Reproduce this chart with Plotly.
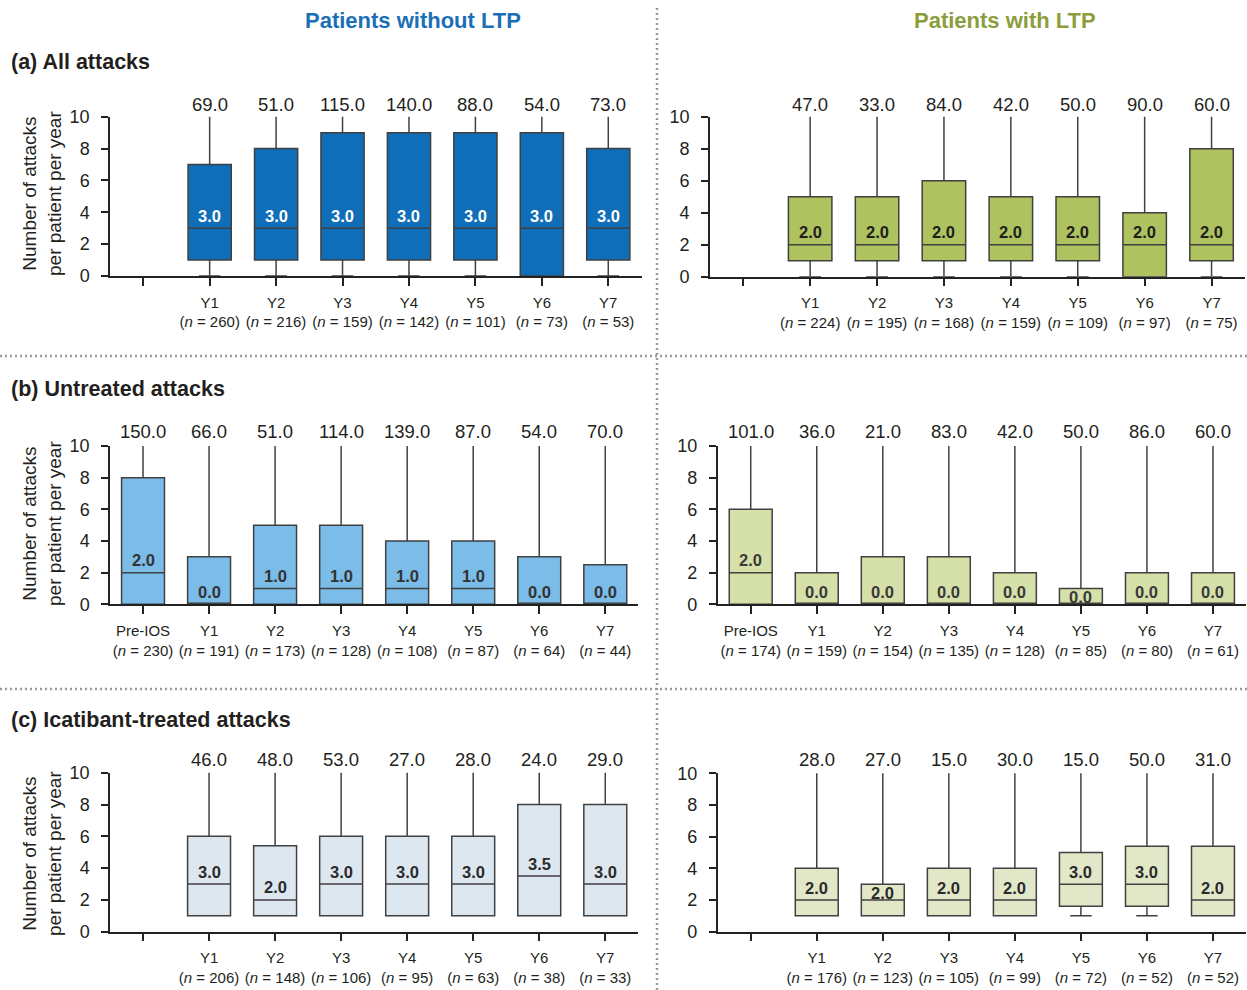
import plotly.graph_objects as go

FONT = "Liberation Sans, Arial, Helvetica, sans-serif"
W, H = 1247, 990

# ---------------- data ----------------
years = ["Y1", "Y2", "Y3", "Y4", "Y5", "Y6", "Y7"]
years_pre = ["Pre-IOS"] + years

# (a) All attacks
a_wo_n = [260, 216, 159, 142, 101, 73, 53]
a_wo_q1 = [1, 1, 1, 1, 1, 0, 1]
a_wo_med = [3.0, 3.0, 3.0, 3.0, 3.0, 3.0, 3.0]
a_wo_q3 = [7, 8, 9, 9, 9, 9, 8]
a_wo_min = [0, 0, 0, 0, 0, 0, 0]
a_wo_max = [69.0, 51.0, 115.0, 140.0, 88.0, 54.0, 73.0]

a_w_n = [224, 195, 168, 159, 109, 97, 75]
a_w_q1 = [1, 1, 1, 1, 1, 0, 1]
a_w_med = [2.0, 2.0, 2.0, 2.0, 2.0, 2.0, 2.0]
a_w_q3 = [5, 5, 6, 5, 5, 4, 8]
a_w_min = [0, 0, 0, 0, 0, 0, 0]
a_w_max = [47.0, 33.0, 84.0, 42.0, 50.0, 90.0, 60.0]

# (b) Untreated attacks
b_wo_n = [230, 191, 173, 128, 108, 87, 64, 44]
b_wo_q1 = [0, 0, 0, 0, 0, 0, 0, 0]
b_wo_med = [2.0, 0.0, 1.0, 1.0, 1.0, 1.0, 0.0, 0.0]
b_wo_q3 = [8, 3, 5, 5, 4, 4, 3, 2.5]
b_wo_min = [0, 0, 0, 0, 0, 0, 0, 0]
b_wo_max = [150.0, 66.0, 51.0, 114.0, 139.0, 87.0, 54.0, 70.0]

b_w_n = [174, 159, 154, 135, 128, 85, 80, 61]
b_w_q1 = [0, 0, 0, 0, 0, 0, 0, 0]
b_w_med = [2.0, 0.0, 0.0, 0.0, 0.0, 0.0, 0.0, 0.0]
b_w_q3 = [6, 2, 3, 3, 2, 1, 2, 2]
b_w_min = [0, 0, 0, 0, 0, 0, 0, 0]
b_w_max = [101.0, 36.0, 21.0, 83.0, 42.0, 50.0, 86.0, 60.0]

# (c) Icatibant-treated attacks
c_wo_n = [206, 148, 106, 95, 63, 38, 33]
c_wo_q1 = [1, 1, 1, 1, 1, 1, 1]
c_wo_med = [3.0, 2.0, 3.0, 3.0, 3.0, 3.5, 3.0]
c_wo_q3 = [6, 5.4, 6, 6, 6, 8, 8]
c_wo_min = [1, 1, 1, 1, 1, 1, 1]
c_wo_max = [46.0, 48.0, 53.0, 27.0, 28.0, 24.0, 29.0]

c_w_n = [176, 123, 105, 99, 72, 52, 52]
c_w_q1 = [1, 1, 1, 1, 1.6, 1.6, 1]
c_w_med = [2.0, 2.0, 2.0, 2.0, 3.0, 3.0, 2.0]
c_w_q3 = [4, 3, 4, 4, 5, 5.4, 5.4]
c_w_min = [1, 1, 1, 1, 1, 1, 1]
c_w_max = [28.0, 27.0, 15.0, 30.0, 15.0, 50.0, 31.0]

# ---------------- styling ----------------
BLUE_DARK = "#106db7"
BLUE_LIGHT = "#7bbde8"
BLUE_PALE = "#dde7f0"
GREEN_DARK = "#aec25f"
GREEN_LIGHT = "#d5e1a8"
GREEN_PALE = "#e2e7c8"
EDGE = "#404040"
AXIS = "#222222"
TEXT = "#231f20"


def px_x(p):
    return p / W


def px_y(p):
    return 1 - p / H


# panel: (labels, has_pre, n, q1, med, q3, lo, hi, fill, median text colour,
#         x-domain px, y-domain px (bottom, top), max-label shift)
panels = [
    (years, False, a_wo_n, a_wo_q1, a_wo_med, a_wo_q3, a_wo_min, a_wo_max,
     BLUE_DARK, "white", (110, 641.5), (276, 116.7), 0),
    (years, False, a_w_n, a_w_q1, a_w_med, a_w_q3, a_w_min, a_w_max,
     GREEN_DARK, "#1e1e1e", (709.8, 1245), (276.7, 116.7), 0),
    (years_pre, True, b_wo_n, b_wo_q1, b_wo_med, b_wo_q3, b_wo_min, b_wo_max,
     BLUE_LIGHT, "#333333", (110, 638.3), (604.3, 446), 2),
    (years_pre, True, b_w_n, b_w_q1, b_w_med, b_w_q3, b_w_min, b_w_max,
     GREEN_LIGHT, "#3a3a3a", (717.7, 1246), (604.3, 446), 2),
    (years, False, c_wo_n, c_wo_q1, c_wo_med, c_wo_q3, c_wo_min, c_wo_max,
     BLUE_PALE, "#2b2b2b", (110, 638.3), (931.7, 772.7), 1),
    (years, False, c_w_n, c_w_q1, c_w_med, c_w_q3, c_w_min, c_w_max,
     GREEN_PALE, "#2b2b2b", (717.7, 1246), (931.7, 773.3), 1),
]

fig = go.Figure()
layout = dict(
    template="none",
    width=W, height=H,
    margin=dict(l=0, r=0, t=0, b=0, pad=0, autoexpand=False),
    paper_bgcolor="white", plot_bgcolor="white",
    showlegend=False,
    font=dict(family=FONT, color=TEXT),
)
annotations = []

for k, (labels, has_pre, n, q1, med, q3, lo, hi, fill, mcol,
        xd, yd, top_shift) in enumerate(panels, start=1):
    sfx = "" if k == 1 else str(k)
    start = 0 if has_pre else 1
    pos = list(range(start, start + len(labels)))

    fig.add_trace(go.Box(
        x=pos, q1=q1, median=med, q3=q3,
        lowerfence=lo, upperfence=hi,
        width=0.65, whiskerwidth=0.5,
        fillcolor=fill,
        line=dict(color=EDGE, width=1.5),
        boxpoints=False, hoverinfo="skip",
        xaxis="x" + sfx, yaxis="y" + sfx,
    ))

    ticktext = [""] * 8
    for p, lab, nn in zip(pos, labels, n):
        ticktext[p] = f"{lab}<br>(<i>n</i> = {nn})"

    layout["xaxis" + sfx] = dict(
        domain=[px_x(xd[0]), px_x(xd[1])],
        anchor="y" + sfx,
        range=[-0.5, 7.5],
        tickmode="array", tickvals=list(range(8)), ticktext=ticktext,
        ticks="outside", ticklen=8, tickwidth=1.5, tickcolor=AXIS,
        showline=True, linecolor=AXIS, linewidth=1.5,
        showgrid=False, zeroline=False, automargin=False,
        tickfont=dict(size=15, color=TEXT, family=FONT),
        ticklabelstandoff=4,
        fixedrange=True,
    )
    layout["yaxis" + sfx] = dict(
        domain=[px_y(yd[0]), px_y(yd[1])],
        anchor="x" + sfx,
        range=[0, 10],
        tickmode="array", tickvals=[0, 2, 4, 6, 8, 10],
        ticks="outside", ticklen=7, tickwidth=1.5, tickcolor=AXIS,
        showline=True, linecolor=AXIS, linewidth=1.5,
        showgrid=False, zeroline=False, automargin=False,
        tickfont=dict(size=18, color=TEXT, family=FONT),
        ticklabelstandoff=8,
        fixedrange=True,
    )

    ppu = (yd[0] - yd[1]) / 10.0  # pixels per unit on this y-axis
    for p, m, top, mx in zip(pos, med, q3, hi):
        # maximum value printed above the clipped whisker
        annotations.append(dict(
            x=p, y=1, xref="x" + sfx, yref=f"y{sfx} domain",
            text=f"{mx:.1f}", showarrow=False,
            xanchor="center", yanchor="bottom", yshift=top_shift,
            font=dict(size=18.5, color=TEXT, family=FONT),
        ))
        # median value printed just above the median line
        shift = min(12.5, (top - m) * ppu - 9)
        annotations.append(dict(
            x=p, y=m, xref="x" + sfx, yref="y" + sfx,
            text=f"<b>{m:.1f}</b>", showarrow=False,
            xanchor="center", yanchor="middle", yshift=shift,
            font=dict(size=16.5, color=mcol, family=FONT),
        ))

# column headers
annotations.append(dict(
    x=px_x(413), y=px_y(20), xref="paper", yref="paper",
    text="<b>Patients without LTP</b>", showarrow=False,
    xanchor="center", yanchor="middle",
    font=dict(size=22, color="#1b6fb6", family=FONT),
))
annotations.append(dict(
    x=px_x(1005), y=px_y(20), xref="paper", yref="paper",
    text="<b>Patients with LTP</b>", showarrow=False,
    xanchor="center", yanchor="middle",
    font=dict(size=22, color="#8a9e3c", family=FONT),
))

# row labels and y-axis titles
for label, ypix, ymid in [("(a) All attacks", 62, 194),
                          ("(b) Untreated attacks", 389, 524),
                          ("(c) Icatibant-treated attacks", 720, 854)]:
    annotations.append(dict(
        x=px_x(9), y=px_y(ypix), xref="paper", yref="paper",
        text=f"<b>{label}</b>", showarrow=False,
        xanchor="left", yanchor="middle",
        font=dict(size=21.5, color=TEXT, family=FONT),
    ))
    annotations.append(dict(
        x=px_x(42), y=px_y(ymid), xref="paper", yref="paper",
        text="Number of attacks<br>per patient per year", showarrow=False,
        textangle=-90, xanchor="center", yanchor="middle",
        font=dict(size=19, color=TEXT, family=FONT),
    ))

layout["annotations"] = annotations

# dotted separators between the panels
dots = dict(color="#9a9a9a", width=2.5, dash="2px,3px")
layout["shapes"] = [
    dict(type="line", xref="paper", yref="paper",
         x0=px_x(657), x1=px_x(657), y0=px_y(8), y1=0, line=dots),
    dict(type="line", xref="paper", yref="paper",
         x0=0, x1=1, y0=px_y(356), y1=px_y(356), line=dots),
    dict(type="line", xref="paper", yref="paper",
         x0=0, x1=1, y0=px_y(689), y1=px_y(689), line=dots),
]

fig.update_layout(**layout)
fig.write_html("out.html")
